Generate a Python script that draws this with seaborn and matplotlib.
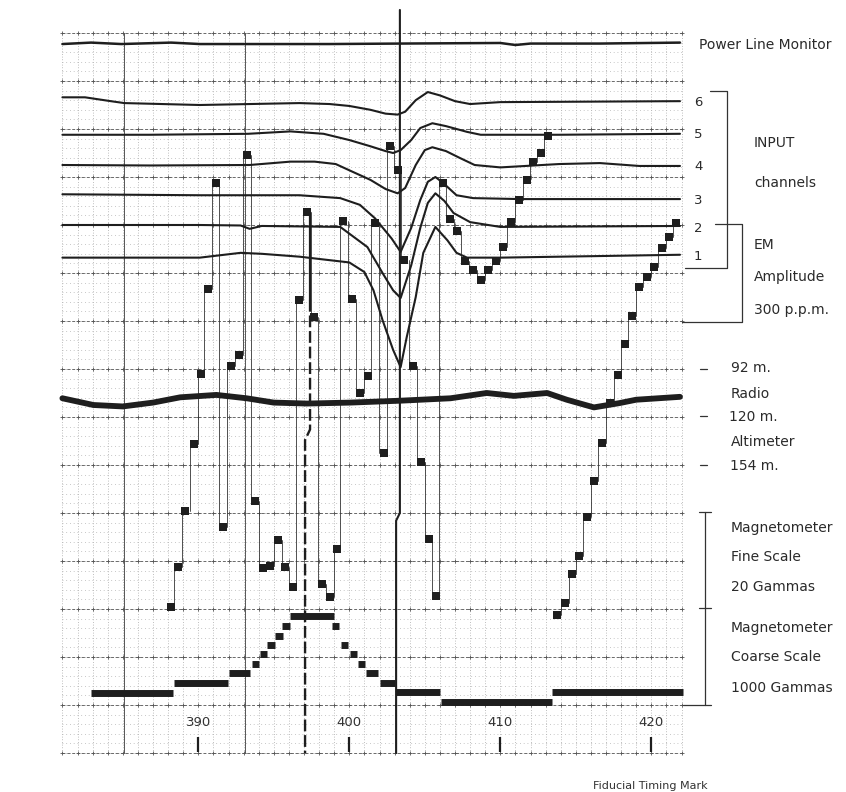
import matplotlib
matplotlib.use("Agg")
import matplotlib.pyplot as plt
import matplotlib.transforms as mtransforms
import numpy as np
import seaborn as sns

# x = fiducial number, y = chart rows (one fine grid division, 0 = bottom grid line)
power_x = [381.0, 382.9, 384.9, 388.2, 390.1, 394.1, 398.7, 403.4, 410.0, 411.0, 412.0, 416.6, 421.9]
power_y = [73.85, 74.0, 73.85, 74.0, 73.85, 73.85, 73.85, 73.9, 73.96, 73.75, 73.9, 73.9, 74.0]

ch6_x = [381.0, 382.5, 384.2, 385.1, 390.1, 393.4, 396.7, 398.7, 400.0, 401.4, 402.4, 403.2, 403.7,
         404.4, 405.2, 406.0, 407.0, 408.0, 410.0, 421.9]
ch6_y = [68.3, 68.3, 67.9, 67.7, 67.5, 67.6, 67.7, 67.6, 67.4, 67.0, 66.6, 66.5, 66.8,
         68.0, 68.85, 68.5, 67.9, 67.6, 67.8, 67.9]

ch5_x = [381.0, 386.8, 393.3, 396.1, 398.3, 400.0, 401.4, 402.4, 402.9, 403.4, 404.1, 404.7,
         405.5, 406.4, 407.8, 408.7, 413.9, 421.9]
ch5_y = [64.4, 64.4, 64.5, 64.75, 64.5, 63.85, 63.2, 62.7, 62.5, 62.8, 63.85, 65.1,
         65.6, 65.3, 64.7, 64.4, 64.4, 64.5]

ch4_x = [381.0, 386.8, 393.4, 396.1, 397.7, 399.1, 400.0, 401.4, 402.4, 403.2, 403.7, 404.4,
         405.0, 405.5, 406.4, 407.3, 408.3, 410.0, 413.9, 416.6, 419.2, 421.9]
ch4_y = [61.25, 61.2, 61.25, 61.6, 61.6, 61.35, 60.7, 59.7, 58.75, 58.3, 58.85, 61.25,
         62.8, 63.1, 62.7, 62.0, 61.25, 61.0, 61.35, 61.45, 61.15, 61.15]

ch3_x = [381.0, 390.1, 396.7, 399.4, 400.7, 401.7, 402.8, 403.4, 404.1, 404.7, 405.2, 405.7,
         406.2, 407.1, 408.2, 411.3, 421.9]
ch3_y = [58.2, 58.1, 58.1, 57.8, 57.1, 55.7, 53.6, 52.2, 54.7, 57.6, 59.5, 60.0,
         59.4, 58.1, 57.8, 57.7, 57.7]

ch2_x = [381.0, 390.1, 392.8, 393.4, 394.2, 399.4, 401.2, 402.2, 402.9, 403.4, 404.1, 404.7,
         405.2, 405.7, 406.3, 406.9, 408.0, 410.0, 421.9]
ch2_y = [55.0, 55.0, 54.95, 54.6, 54.9, 54.8, 52.7, 50.0, 48.2, 47.4, 50.8, 54.7,
         57.3, 58.3, 57.5, 56.25, 55.3, 54.8, 54.9]

ch1_x = [381.0, 390.1, 392.8, 394.2, 396.7, 400.0, 401.0, 401.6, 402.2, 402.9, 403.4, 403.8,
         404.4, 404.9, 405.7, 406.5, 407.1, 407.8, 410.0, 421.9]
ch1_y = [51.6, 51.6, 52.1, 52.0, 51.7, 51.1, 50.1, 48.2, 45.1, 42.0, 40.2, 43.3,
         47.5, 52.1, 54.8, 53.4, 52.1, 51.6, 51.6, 51.9]

alt_x = [381.0, 383.05, 385.0, 387.0, 388.8, 391.2, 393.2, 395.0, 397.2, 400.05, 403.4, 406.7,
         409.1, 410.9, 413.1, 414.4, 416.2, 417.9, 419.0, 421.9]
alt_y = [36.95, 36.25, 36.1, 36.5, 37.05, 37.3, 36.95, 36.5, 36.4, 36.5, 36.7, 36.95,
         37.5, 37.2, 37.5, 36.8, 36.0, 36.45, 36.8, 37.1]

# magnetometer fine scale samples (square marks)
fine_x = [388.16, 388.66, 389.15, 389.73, 390.18, 390.64, 391.15, 391.63, 392.17, 392.70, 393.25,
          393.75, 394.31, 394.75, 395.28, 395.74, 396.26, 396.70, 397.22, 397.68, 398.19, 398.73,
          399.20, 399.60, 400.17, 400.68, 401.24, 401.70, 402.28, 402.70, 403.21, 403.64, 404.22,
          404.75, 405.25, 405.73, 406.19, 406.67, 407.15, 407.66, 408.17, 408.72, 409.21, 409.72,
          410.20, 410.73, 411.22, 411.74, 412.19, 412.68, 413.13, 413.75, 414.28, 414.77, 415.23,
          415.74, 416.21, 416.72, 417.26, 417.79, 418.26, 418.72, 419.21, 419.69, 420.21, 420.71,
          421.19, 421.64]
fine_y = [15.24, 19.41, 25.24, 32.19, 39.43, 48.33, 59.34, 23.49, 40.34, 41.41, 62.29,
          26.20, 19.24, 19.43, 22.19, 19.41, 17.24, 47.19, 56.35, 45.42, 17.60, 16.20,
          21.22, 55.45, 47.24, 37.47, 39.27, 55.24, 31.22, 63.26, 60.73, 51.35, 40.31,
          30.28, 22.26, 16.35, 59.41, 55.59, 54.41, 51.28, 50.31, 49.27, 50.31, 51.28,
          52.66, 55.28, 57.57, 59.64, 61.56, 62.55, 64.32, 14.38, 15.66, 18.68, 20.57,
          24.61, 28.33, 32.26, 36.46, 39.38, 42.60, 45.52, 48.54, 49.58, 50.63, 52.64,
          53.78, 55.18]

# magnetometer coarse scale steps
coarse_start = [382.9, 388.4, 392.0, 393.55, 394.08, 394.55, 395.08, 395.55, 396.1, 398.85,
                399.42, 400.03, 400.56, 401.1, 402.0, 403.1, 406.1, 413.45]
coarse_end = [388.3, 391.95, 393.4, 394.05, 394.58, 395.05, 395.58, 396.05, 399.0, 399.35,
              399.92, 400.53, 401.06, 401.9, 403.05, 406.0, 413.4, 422.1]
coarse_level = [6.2, 7.3, 8.3, 9.3, 10.3, 11.25, 12.2, 13.2, 14.3, 13.2,
                11.25, 10.3, 9.3, 8.3, 7.3, 6.4, 5.35, 6.4]

fiducials = [390, 400, 410, 420]

sns.set_style("white")
plt.rcParams["font.family"] = ["DejaVu Sans"]

W, H = 846, 792
fig = plt.figure(figsize=(W / 100, H / 100), dpi=100)
ax = fig.add_axes([0, 0, 1, 1])
ax.set_xlim(390 - 198.3 / 15.1, 390 + (W - 198.3) / 15.1)
ax.set_ylim((753 - H) / 9.6, 753 / 9.6)
ax.axis("off")
pix = mtransforms.Affine2D().scale(1 / W, -1 / H).translate(0, 1) + fig.transFigure
ink = "#1e1e1e"

# chart paper grid
cols = np.arange(381, 423)
rows = np.arange(0, 76)
ax.vlines(cols, 0, 75, colors="#a8a8a8", lw=0.6, linestyles=(0, (1, 2.2)), zorder=1)
ax.hlines(rows, 381, 422, colors="#b4b4b4", lw=0.6, linestyles=(0, (1, 3.5)), zorder=1)
ax.hlines(rows[::5], 381, 422, colors="#6a6a6a", lw=0.7, linestyles=(0, (3, 2)), zorder=1)
gx, gy = np.meshgrid(cols, rows[::5])
ax.scatter(gx.ravel(), gy.ravel(), marker="+", s=10, lw=0.6, color="#555555", zorder=1)
ax.vlines([385.05, 393.1], 0, 75, colors="#555555", lw=0.7, zorder=1)

# analog traces
sns.lineplot(x=power_x, y=power_y, ax=ax, color=ink, lw=1.8, sort=False, estimator=None, zorder=3)
for cx, cy in [(ch6_x, ch6_y), (ch5_x, ch5_y), (ch4_x, ch4_y),
               (ch3_x, ch3_y), (ch2_x, ch2_y), (ch1_x, ch1_y)]:
    sns.lineplot(x=cx, y=cy, ax=ax, color=ink, lw=1.5, sort=False, estimator=None, zorder=3)
sns.lineplot(x=alt_x, y=alt_y, ax=ax, color=ink, lw=4.2, sort=False, estimator=None, zorder=3)

# event marks: dashed line and center line
ax.plot([397.4, 397.4], [56.35, 47.2], color=ink, lw=1.6, zorder=3)
ax.plot([397.4, 397.4, 397.07, 397.07], [47.2, 33.7, 32.6, 0], color=ink, lw=1.7,
        dashes=(5, 1.6), zorder=3)
ax.plot([403.35, 403.35, 403.1, 403.1], [77.4, 25.0, 24.2, 0], color=ink, lw=1.5, zorder=3)

# fine scale: connectors and squares
for i in range(len(fine_x) - 1):
    dy = abs(fine_y[i + 1] - fine_y[i])
    if fine_x[i + 1] - fine_x[i] < 0.7 and dy < 45:
        xm = (fine_x[i] + fine_x[i + 1]) / 2
        ax.plot([xm, xm], [fine_y[i], fine_y[i + 1]], color="#333333", lw=0.6, zorder=2)
sns.scatterplot(x=fine_x, y=fine_y, ax=ax, marker="s", s=34, color=ink, linewidth=0, zorder=4)

# coarse scale
ax.hlines(coarse_level, coarse_start, coarse_end, colors=ink, lw=5, zorder=4)

# fiducial timing marks
ax.vlines(fiducials, 0.1, 1.7, colors=ink, lw=1.6, zorder=3)
for f in fiducials:
    ax.text(f, 3.2, str(f), ha="center", va="center", fontsize=9.5, color="#333333")

# right-hand annotations
def label(x, y, s, size=10):
    fig.text(x / W, 1 - y / H, s, va="center", ha="left", fontsize=size, color="#2a2a2a")

label(699, 45, "Power Line Monitor")
for n, yy in zip(["6", "5", "4", "3", "2", "1"], [103, 135, 167, 200, 228, 256]):
    label(694, yy, n, 9.5)
label(754, 143, "INPUT")
label(754, 183, "channels")
label(754, 245, "EM")
label(754, 277, "Amplitude")
label(754, 310, "300 p.p.m.")
label(731, 368, "92 m.")
label(731, 394, "Radio")
label(729, 417, "120 m.")
label(731, 442, "Altimeter")
label(730, 466, "154 m.")
label(731, 528, "Magnetometer")
label(731, 557, "Fine Scale")
label(731, 587, "20 Gammas")
label(731, 628, "Magnetometer")
label(731, 657, "Coarse Scale")
label(731, 688, "1000 Gammas")
fig.text(593 / W, 1 - 781 / H, "Fiducial Timing Mark", va="top", ha="left", fontsize=8,
         color="#333333")

bk = dict(color="#333333", lw=0.9, transform=pix, clip_on=False)
ax.plot([710, 727, 727, 685], [91, 91, 268, 268], **bk)
ax.plot([715, 742, 742, 682], [224, 224, 322, 322], **bk)
ax.plot([705, 705], [512, 705], **bk)
ax.plot([699, 711], [512, 512], **bk)
ax.plot([699, 711], [608, 608], **bk)
ax.plot([683, 711], [705, 705], **bk)
for yy in [369, 416, 465]:
    ax.plot([700, 707], [yy, yy], **bk)

fig.savefig("out.png", dpi=100, facecolor="white")
